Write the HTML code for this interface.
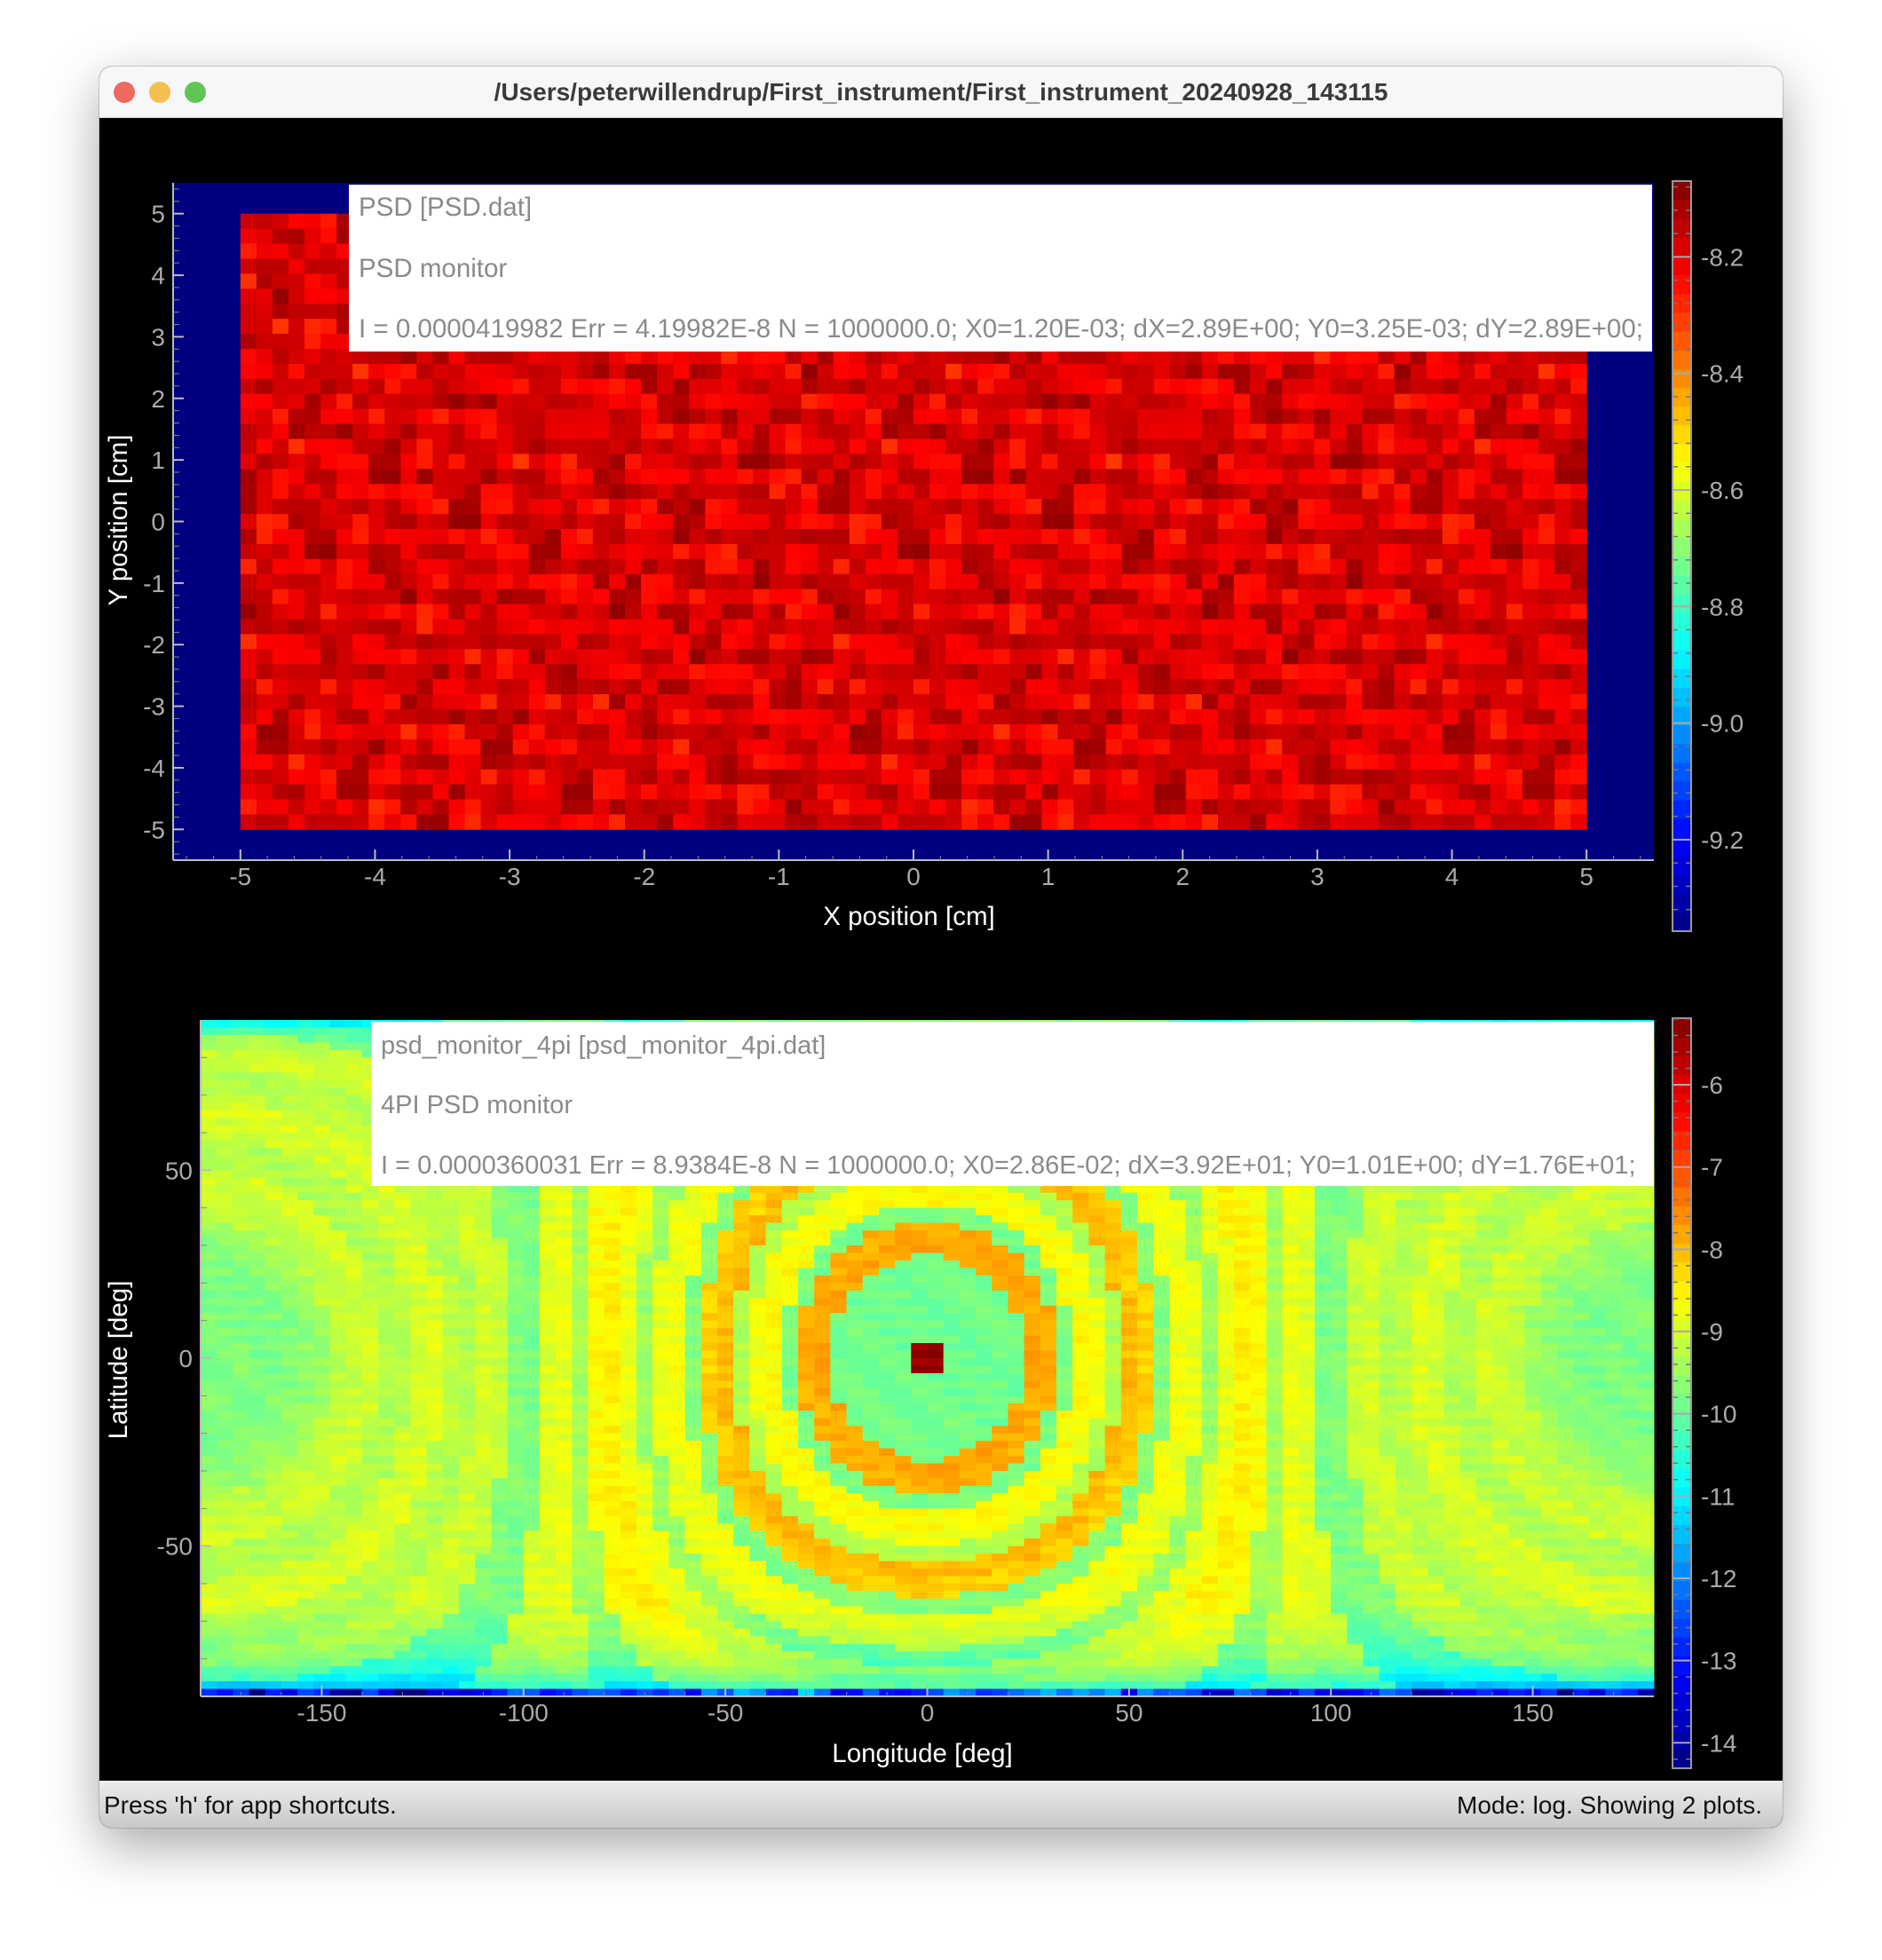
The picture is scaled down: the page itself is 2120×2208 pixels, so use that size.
<!DOCTYPE html>
<html><head><meta charset="utf-8">
<style>
html,body{margin:0;padding:0;background:#ffffff;}
body{width:2120px;height:2208px;position:relative;overflow:hidden;font-family:"Liberation Sans",sans-serif;}
#win{position:absolute;left:112px;top:75px;width:1896px;height:1984px;border-radius:14px;overflow:hidden;box-shadow:0 20px 60px rgba(0,0,0,0.35),0 0 0 1px rgba(0,0,0,0.15);background:#000;}
#titlebar{position:absolute;left:0;top:0;width:1896px;height:57px;background:#f6f7f9;border-bottom:1px solid #d0d0d0;}
.light{position:absolute;top:17px;width:24px;height:24px;border-radius:50%;}
#title{position:absolute;left:0;width:1896px;top:13px;text-align:center;font-weight:bold;font-size:28px;color:#3a3a3a;}
#status{position:absolute;left:0;top:1931px;width:1896px;height:53px;background:linear-gradient(#ececec,#c9c9c9);}
.st{position:absolute;top:12px;font-size:28px;color:#111;}
svg text{font-family:"Liberation Sans",sans-serif;}
</style></head><body>
<div id="win">
 <div id="titlebar">
  <div class="light" style="left:16px;background:#ec6a5e"></div>
  <div class="light" style="left:56px;background:#f4bf4f"></div>
  <div class="light" style="left:96px;background:#61c554"></div>
  <div id="title">/Users/peterwillendrup/First_instrument/First_instrument_20240928_143115</div>
 </div>
 <div id="status">
  <div class="st" style="left:5px">Press 'h' for app shortcuts.</div>
  <div class="st" style="right:23px">Mode: log. Showing 2 plots.</div>
 </div>
</div>
<svg id="chart" width="2120" height="2208" style="position:absolute;left:0;top:0"></svg>
<script>
// ---- PSD plot data ----
const psdCols = 84, psdRows = 41;
const psdMean = -8.19;
const psdNoise = [0.03,-0.02,0.05,-0.05,0.01,0.06,-0.03,0.02,-0.06,0.04,0.0,-0.01,0.05,-0.04,0.02,-0.06,0.03,-0.01,0.06,-0.03,0.01,-0.05,0.04,0.0,-0.02,0.06,-0.05,0.03,-0.03,0.01,0.05,-0.07,0.02,-0.01,0.03,-0.04,0.05];
const psdXTicks = [-5,-4,-3,-2,-1,0,1,2,3,4,5];
const psdYTicks = [5,4,3,2,1,0,-1,-2,-3,-4,-5];
const psdCbTicks = [-8.2,-8.4,-8.6,-8.8,-9.0,-9.2];
// ---- 4PI plot data ----
const pi4Cols = 90, pi4Rows = 90;
const ringProfile = [-5.35,-9.9,-9.9,-9.9,-9.85,-9.9,-7.8,-7.9,-9.8,-8.6,-8.7,-9.3,-8.0,-8.2,-9.7,-8.7,-8.8,-9.5,-8.8,-8.5,-8.6,-9.4,-8.8,-8.9,-9.8,-9.7,-9.1,-9.0,-9.3,-9.2,-8.9,-9.0,-9.3,-9.3,-9.0,-9.1,-9.2,-9.5,-9.6,-9.7,-9.8,-9.8,-9.7,-9.8,-9.8];
const polarOffset = [-3.8,-1.6,-1.2,-0.9,-0.7,-0.55,-0.45,-0.35,-0.28,-0.22,-0.16,-0.1];
const topOffset = [-1.1,-0.5,-0.3,-0.2,-0.1];
const pi4Noise = [0.1,-0.12,0.05,0.18,-0.08,0.0,-0.15,0.12,0.03,-0.05,0.16,-0.1,0.07,-0.18,0.02,0.11,-0.03,0.14,-0.13,0.06,-0.07,0.09,-0.16,0.01,0.13,-0.09,0.04];
const pi4XTicks = [-150,-100,-50,0,50,100,150];
const pi4YTicks = [50,0,-50];
const pi4CbTicks = [-6,-7,-8,-9,-10,-11,-12,-13,-14];

const NS = 'http://www.w3.org/2000/svg';
const svg = document.getElementById('chart');
function mk(tag, attrs, parent){const e=document.createElementNS(NS,tag);for(const k in attrs)e.setAttribute(k,attrs[k]);(parent||svg).appendChild(e);return e;}
function jet(x){x=Math.max(0,Math.min(1,x));const c=v=>Math.round(255*Math.max(0,Math.min(1,v)));
 return 'rgb('+c(1.5-Math.abs(4*x-3))+','+c(1.5-Math.abs(4*x-2))+','+c(1.5-Math.abs(4*x-1))+')';}
function lin(d0,d1,r0,r1){return v=>r0+(v-d0)*(r1-r0)/(d1-d0);}

function axesFrame(g,L,T,R,B){
 mk('line',{x1:L,y1:T,x2:L,y2:B,stroke:'#bbb','stroke-width':2},g);
 mk('line',{x1:L,y1:B,x2:R,y2:B,stroke:'#bbb','stroke-width':2},g);
}
function colorbar(name,L,T,W,H,vmin,vmax,ticks,fmt){
 const g=mk('g',{});
 
 
 const y=lin(vmin,vmax,T+H,T);
 const n=40;
 for(let i=0;i<n;i++){mk('rect',{x:L,y:T+H*(n-1-i)/n,width:W,height:H/n+0.6,fill:jet((i+0.5)/n)},g);}
 mk('rect',{x:L,y:T,width:W,height:H,fill:'none',stroke:'#999','stroke-width':2},g);
 const step=(ticks[0]-ticks[1]);
 for(let k=-5;k<=ticks.length*5+5;k++){const v=ticks[ticks.length-1]+k*step/5;const yy=y(v);if(yy<T||yy>T+H)continue;mk('line',{x1:L+W-6,y1:yy,x2:L+W-1,y2:yy,stroke:'#777','stroke-width':1.5},g);mk('line',{x1:L+1,y1:yy,x2:L+6,y2:yy,stroke:'#777','stroke-width':1.5},g);}
 ticks.forEach(t=>{const yy=y(t);mk('line',{x1:L+1,y1:yy,x2:L+W-1,y2:yy,stroke:'#aaa','stroke-width':2},g);
  const tx=mk('text',{x:L+W+11,y:yy+10,fill:'#aaa','font-size':28},g);tx.textContent=fmt(t);});
}
function infoBox(name,L,T,R,B,lines,ys,fs){
 const g=mk('g',{});
 
 
 mk('rect',{x:L,y:T,width:R-L,height:B-T,fill:'#fff'},g);
 lines.forEach((s,i)=>{const t=mk('text',{x:L+11,y:ys[i],fill:'#8a8a8a','font-size':fs},g);t.textContent=s;});
}

// ===== PSD plot =====
try{
 const L=195,T=206,R=1863,B=969;
 const x=lin(-5.5,5.5,L,R), y=lin(-5.5,5.5,B,T);
 const cMin=-9.357,cMax=-8.07;
 const g=mk('g',{});
 
 
 mk('rect',{x:L,y:T,width:R-L,height:B-T,fill:jet(0)},g);
 const frag=document.createDocumentFragment();
 const dx=10/psdCols, dy=10/psdRows;
 for(let j=0;j<psdRows;j++)for(let i=0;i<psdCols;i++){
  const v=psdMean+psdNoise[(i*7+j*13)%psdNoise.length]+psdNoise[(i*3+j*5+11)%psdNoise.length]*0.6;
  const x0=x(-5+i*dx),x1=x(-5+(i+1)*dx),y0=y(5-j*dy),y1=y(5-(j+1)*dy);
  const r=mk('rect',{x:x0,y:y0,width:x1-x0+0.5,height:y1-y0+0.5,fill:jet((v-cMin)/(cMax-cMin))},frag);
  
  
 }
 g.appendChild(frag);
 const ax=mk('g',{});
 
 
 axesFrame(ax,L,T,R,B);
 for(let k=-27;k<=27;k++){const v=k*0.2;const xx=x(v),yy=y(v);mk('line',{x1:xx,y1:B-5,x2:xx,y2:B,stroke:'#888'},ax);mk('line',{x1:L,y1:yy,x2:L+7,y2:yy,stroke:'#888'},ax);}
 psdXTicks.forEach(t=>{mk('line',{x1:x(t),y1:B-12,x2:x(t),y2:B,stroke:'#bbb','stroke-width':2},ax);const tx=mk('text',{x:x(t),y:B+28,fill:'#aaa','font-size':28,'text-anchor':'middle'},ax);tx.textContent=String(t);});
 psdYTicks.forEach(t=>{mk('line',{x1:L,y1:y(t),x2:L+12,y2:y(t),stroke:'#bbb','stroke-width':2},ax);const tx=mk('text',{x:L-9,y:y(t)+10,fill:'#aaa','font-size':28,'text-anchor':'end'},ax);tx.textContent=String(t);});
 const xt=mk('text',{x:1024,y:1042,fill:'#fff','font-size':29.5,'text-anchor':'middle'});xt.textContent='X position [cm]';
 
 
 const yt=mk('text',{x:0,y:0,fill:'#fff','font-size':29.5,'text-anchor':'middle',transform:'translate(143,586) rotate(-90)'});yt.textContent='Y position [cm]';
 
 
 infoBox('psd-info-box',393,208,1861,396,['PSD [PSD.dat]','PSD monitor','I = 0.0000419982 Err = 4.19982E-8 N = 1000000.0; X0=1.20E-03; dX=2.89E+00; Y0=3.25E-03; dY=2.89E+00;'],[243,312,380],29.5);
 colorbar('psd-colorbar',1884,204,21,845,cMin,cMax,psdCbTicks,v=>v.toFixed(1));
}catch(e){console.log(e);}

// ===== 4PI plot =====
try{
 const L=226,T=1149,R=1863,B=1911;
 const x=lin(-180,180,L,R), y=lin(-90,90,B,T);
 const cMin=-14.31,cMax=-5.19;
 const g=mk('g',{});
 
 
 const frag=document.createDocumentFragment();
 const dl=360/pi4Cols, db=180/pi4Rows;
 for(let j=0;j<pi4Rows;j++)for(let i=0;i<pi4Cols;i++){
  const lon=-180+(i+0.5)*dl, lat=90-(j+0.5)*db;
  const cs=Math.cos(lat*0.88*Math.PI/180)*Math.cos(lon*Math.PI/180);
  const th=Math.acos(Math.max(-1,Math.min(1,cs)))*180/Math.PI;
  let v=ringProfile[Math.min(ringProfile.length-1,Math.floor(th/4))];
  if(Math.abs(lon)<4&&Math.abs(lat)<3)v=ringProfile[0];
  const bottom=j>pi4Rows/2;
  const pd=bottom?pi4Rows-1-j:j;
  if(bottom&&pd<polarOffset.length)v+=polarOffset[pd];
  if(!bottom&&pd<topOffset.length)v+=topOffset[pd];
  const nz=pi4Noise[(i*5+j*11)%pi4Noise.length];
  v+=nz*(bottom&&pd===0?6:1);
  const x0=x(-180+i*dl),x1=x(-180+(i+1)*dl),y0=y(90-j*db),y1=y(90-(j+1)*db);
  const r=mk('rect',{x:x0,y:y0,width:x1-x0+0.5,height:y1-y0+0.5,fill:jet((v-cMin)/(cMax-cMin))},frag);
  
  
 }
 g.appendChild(frag);
 const ax=mk('g',{});
 
 
 axesFrame(ax,L,T,R,B);
 for(let v=-170;v<=170;v+=10){mk('line',{x1:x(v),y1:B-5,x2:x(v),y2:B,stroke:'#888'},ax);}
 for(let v=-80;v<=80;v+=10){mk('line',{x1:L,y1:y(v),x2:L+7,y2:y(v),stroke:'#888'},ax);}
 pi4XTicks.forEach(t=>{mk('line',{x1:x(t),y1:B-12,x2:x(t),y2:B,stroke:'#bbb','stroke-width':2},ax);const tx=mk('text',{x:x(t),y:B+28,fill:'#aaa','font-size':28,'text-anchor':'middle'},ax);tx.textContent=String(t);});
 pi4YTicks.forEach(t=>{mk('line',{x1:L,y1:y(t),x2:L+12,y2:y(t),stroke:'#bbb','stroke-width':2},ax);const tx=mk('text',{x:L-9,y:y(t)+10,fill:'#aaa','font-size':28,'text-anchor':'end'},ax);tx.textContent=String(t);});
 const xt=mk('text',{x:1039,y:1985,fill:'#fff','font-size':29.5,'text-anchor':'middle'});xt.textContent='Longitude [deg]';
 
 
 const yt=mk('text',{x:0,y:0,fill:'#fff','font-size':29.5,'text-anchor':'middle',transform:'translate(143,1532) rotate(-90)'});yt.textContent='Latitude [deg]';
 
 
 infoBox('psd4pi-info-box',418,1151,1863,1336,['psd_monitor_4pi [psd_monitor_4pi.dat]','4PI PSD monitor','I = 0.0000360031 Err = 8.9384E-8 N = 1000000.0; X0=2.86E-02; dX=3.92E+01; Y0=1.01E+00; dY=1.76E+01;'],[1187,1254,1322],29);
 colorbar('psd4pi-colorbar',1884,1147,21,845,cMin,cMax,pi4CbTicks,v=>String(v));
}catch(e){console.log(e);}
</script>
</body></html>
